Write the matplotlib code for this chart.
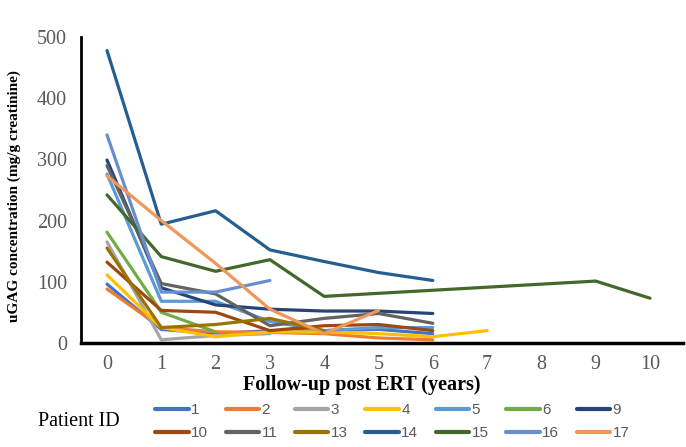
import numpy as np
import matplotlib
matplotlib.use("Agg")
import matplotlib.pyplot as plt

# ==========================================================
# uGAG concentration per patient, follow-up post ERT
# ==========================================================

patient_ids = ["1", "2", "3", "4", "5", "6", "9",
               "10", "11", "13", "14", "15", "16", "17"]

colors = ["#4472C4", "#ED7D31", "#A5A5A5", "#FFC000", "#5B9BD5", "#70AD47", "#264478",
          "#9E480E", "#636363", "#997300", "#255E91", "#43682B", "#698ED0", "#F1975A"]

years_1 = [0, 1, 2, 3, 4, 5, 6]
ugag_1 = [96, 22, 15, 20, 20, 22, 15]
years_2 = [0, 1, 2, 3, 4, 5, 6]
ugag_2 = [88, 25, 18, 17, 15, 8, 5]
years_3 = [0, 1, 2, 3]
ugag_3 = [165, 5, 12, 15]
years_4 = [0, 1, 2, 3, 4, 5, 6, 7]
ugag_4 = [111, 25, 10, 18, 18, 15, 10, 20]
years_5 = [0, 1, 2, 3, 4, 5, 6]
ugag_5 = [276, 68, 68, 35, 20, 25, 25]
years_6 = [0, 1, 2]
ugag_6 = [181, 50, 18]
years_9 = [0, 1, 2, 3, 4, 5, 6]
ugag_9 = [299, 90, 62, 55, 52, 52, 48]
years_10 = [0, 1, 2, 3, 4, 5, 6]
ugag_10 = [132, 53, 50, 20, 28, 30, 20]
years_11 = [0, 1, 2, 3, 4, 5, 6]
ugag_11 = [290, 97, 80, 28, 40, 48, 32]
years_13 = [0, 1, 2, 3, 4]
ugag_13 = [155, 25, 30, 40, 20]
years_14 = [0, 1, 2, 3, 4, 5, 6]
ugag_14 = [478, 194, 216, 152, 133, 115, 102]
years_15 = [0, 1, 2, 3, 4, 6, 9, 10]
ugag_15 = [242, 141, 117, 136, 76, 86, 101, 73]
years_16 = [0, 1, 2, 3]
ugag_16 = [340, 83, 83, 102]
years_17 = [0, 1, 2, 3, 4, 5]
ugag_17 = [273, 200, 130, 55, 15, 53]

series = [(years_1, ugag_1), (years_2, ugag_2), (years_3, ugag_3), (years_4, ugag_4),
          (years_5, ugag_5), (years_6, ugag_6), (years_9, ugag_9), (years_10, ugag_10),
          (years_11, ugag_11), (years_13, ugag_13), (years_14, ugag_14),
          (years_15, ugag_15), (years_16, ugag_16), (years_17, ugag_17)]

x_ticks = list(range(0, 11))
y_ticks = [0, 100, 200, 300, 400, 500]

# ==========================================================
# Plot
# ==========================================================

fig = plt.figure(figsize=(6.86, 4.47), dpi=100)
ax = fig.add_axes([0.118, 0.233, 0.877, 0.684])

lines = []
for pid, col, (xs, ys) in zip(patient_ids, colors, series):
    ln, = ax.plot(xs, ys, color=col, linewidth=2.3, label=pid, solid_capstyle="round")
    lines.append(ln)

ax.set_xlim(-0.48, 10.6)
ax.set_ylim(0, 500)
ax.set_xticks(x_ticks)
ax.set_yticks(y_ticks)

serif = "Liberation Serif"
for lab in ax.get_xticklabels() + ax.get_yticklabels():
    lab.set_fontfamily(serif)
    lab.set_fontsize(14.5)
    lab.set_color("#595959")
ax.tick_params(axis="y", length=0, pad=10)
ax.tick_params(axis="x", length=0, pad=9)

for s in ["top", "right"]:
    ax.spines[s].set_visible(False)
ax.spines["left"].set_linewidth(2)
ax.spines["bottom"].set_linewidth(2.5)

ax.set_xlabel("Follow-up post ERT (years)", fontfamily=serif, fontweight="bold",
              fontsize=14.5)
ax.xaxis.set_label_coords(0.467, -0.106)
ax.set_ylabel("uGAG concentration (mg/g creatinine)", fontfamily=serif,
              fontweight="bold", fontsize=11)
ax.yaxis.set_label_coords(-0.1, 0.48)

fig.text(0.055, 0.057, "Patient ID", fontfamily=serif, fontsize=14.5,
         ha="left", va="center")

# legend fills row by row: 7 columns x 2 rows
order = []
for c in range(7):
    order += [c, c + 7]
leg = fig.legend([lines[i] for i in order], [patient_ids[i] for i in order],
                 loc="center left", bbox_to_anchor=(0.206, 0.057), ncol=7,
                 frameon=False, prop={"family": ["Liberation Sans Narrow", "Liberation Sans"],
                                      "size": 11},
                 handlelength=2.2, handletextpad=0.15, columnspacing=1.15,
                 labelspacing=0.6)
for t in leg.get_texts():
    t.set_color("#595959")
for h in leg.get_lines():
    h.set_linewidth(3)

fig.savefig("out.png", dpi=100)
